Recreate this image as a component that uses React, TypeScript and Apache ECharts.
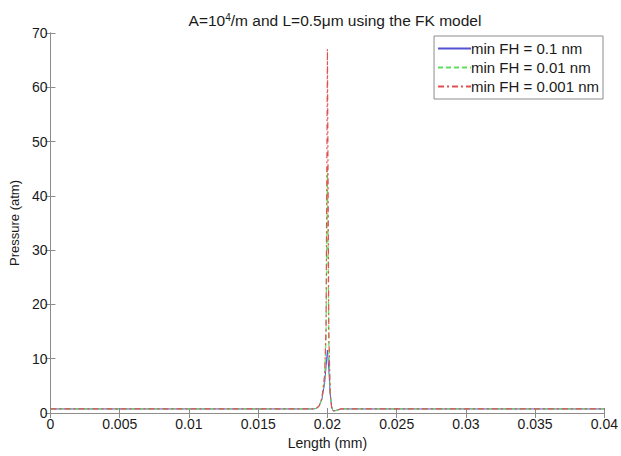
import React, { useEffect, useRef } from "react";
import * as echarts from "echarts";

const seriesNames = ["min FH = 0.1 nm", "min FH = 0.01 nm", "min FH = 0.001 nm"];

// [length (mm), pressure (atm)]
const blueData: [number, number][] = [
  [0, 0.75], [0.019, 0.75], [0.0192, 0.85], [0.0194, 1.3], [0.0196, 2.5], [0.0198, 5.5],
  [0.0199, 8.5], [0.02, 11.6], [0.0201, 8], [0.0202, 3.5], [0.0203, 1.2], [0.0204, 0.4],
  [0.0206, 0.45], [0.0209, 0.7], [0.021, 0.75], [0.04, 0.75],
];
const greenData: [number, number][] = [
  [0, 0.75], [0.019, 0.75], [0.0192, 0.85], [0.0194, 1.3], [0.0196, 2.6], [0.0198, 6.5],
  [0.0199, 14], [0.02, 45], [0.0201, 13], [0.0202, 3.5], [0.0203, 1.1], [0.0204, 0.4],
  [0.0206, 0.45], [0.0209, 0.7], [0.021, 0.75], [0.04, 0.75],
];
const redData: [number, number][] = [
  [0, 0.75], [0.019, 0.75], [0.0192, 0.85], [0.0194, 1.3], [0.0196, 2.7], [0.0198, 7],
  [0.0199, 16], [0.02, 67], [0.0201, 15], [0.0202, 3.6], [0.0203, 1.1], [0.0204, 0.4],
  [0.0206, 0.45], [0.0209, 0.7], [0.021, 0.75], [0.04, 0.75],
];

const xMin = 0, xMax = 0.04, xStep = 0.005;
const yMin = 0, yMax = 70, yStep = 10;

const FONT = "Liberation Sans, Arial, sans-serif";
const AXIS_COLOR = "#8c8c8c";
const TEXT_COLOR = "#1a1a1a";

export default function App() {
  const ref = useRef<HTMLDivElement>(null);
  useEffect(() => {
    if (!ref.current) return;
    const chart = echarts.init(ref.current, undefined, { renderer: "svg" });
    const axisLine = { show: true, lineStyle: { color: AXIS_COLOR, width: 1 } };
    const tick = { show: true, inside: true, length: 5, lineStyle: { color: AXIS_COLOR } };
    chart.setOption({
      animation: false,
      backgroundColor: "#ffffff",
      textStyle: { fontFamily: FONT },
      title: {
        text: "A=10{sup|4}/m and L=0.5μm using the FK model",
        left: 330,
        textAlign: "center",
        top: 7,
        textStyle: {
          fontFamily: FONT,
          fontSize: 15.5,
          fontWeight: "normal",
          color: TEXT_COLOR,
          rich: {
            sup: { fontSize: 10, verticalAlign: "top", padding: [0, 0, 7, 0], fontFamily: FONT, color: TEXT_COLOR },
          },
        },
      },
      legend: {
        orient: "vertical",
        right: 18,
        top: 36,
        itemWidth: 33,
        itemHeight: 8,
        itemGap: 4,
        padding: [5, 4, 5, 3],
        borderColor: "#8c8c8c",
        borderWidth: 1,
        backgroundColor: "#ffffff",
        itemStyle: { opacity: 0 },
        textStyle: { fontFamily: FONT, fontSize: 15, color: TEXT_COLOR, padding: [0, 0, 0, -5] },
        data: seriesNames,
      },
      grid: { left: 50, right: 14, top: 33, bottom: 43 },
      xAxis: [
        {
          type: "value",
          min: xMin,
          max: xMax,
          interval: xStep,
          name: "Length (mm)",
          nameLocation: "middle",
          nameGap: 22,
          nameTextStyle: { fontFamily: FONT, fontSize: 14, color: TEXT_COLOR },
          axisLine,
          axisTick: tick,
          splitLine: { show: false },
          axisLabel: {
            fontFamily: FONT,
            fontSize: 14,
            color: TEXT_COLOR,
            margin: 4,
            formatter: (v: number) => String(parseFloat(v.toFixed(4))),
          },
        },
        {
          type: "value",
          position: "top",
          min: xMin,
          max: xMax,
          interval: xStep,
          axisLine,
          axisTick: tick,
          splitLine: { show: false },
          axisLabel: { show: false },
        },
      ],
      yAxis: [
        {
          type: "value",
          min: yMin,
          max: yMax,
          interval: yStep,
          name: "Pressure (atm)",
          nameLocation: "middle",
          nameGap: 25,
          nameTextStyle: { fontFamily: FONT, fontSize: 13, color: TEXT_COLOR },
          axisLine,
          axisTick: tick,
          splitLine: { show: false },
          axisLabel: { fontFamily: FONT, fontSize: 14, color: TEXT_COLOR, margin: 3 },
        },
        {
          type: "value",
          position: "right",
          min: yMin,
          max: yMax,
          interval: yStep,
          axisLine,
          axisTick: tick,
          splitLine: { show: false },
          axisLabel: { show: false },
        },
      ],
      series: [
        {
          name: seriesNames[0],
          type: "line",
          data: blueData,
          showSymbol: false,
          symbol: "none",
          lineStyle: { color: "#5252d2", width: 1, type: "solid" },
          itemStyle: { color: "#5252d2" },
          z: 3,
        },
        {
          name: seriesNames[1],
          type: "line",
          data: greenData,
          showSymbol: false,
          symbol: "none",
          lineStyle: { color: "#5ce05c", width: 1.2, type: [5, 3] },
          itemStyle: { color: "#5ce05c" },
          z: 4,
        },
        {
          name: seriesNames[2],
          type: "line",
          data: redData,
          showSymbol: false,
          symbol: "none",
          lineStyle: { color: "#e05050", width: 1.2, type: [6, 3, 2, 3] },
          itemStyle: { color: "#e05050" },
          z: 5,
        },
      ],
    });
    return () => chart.dispose();
  }, []);
  return (
    <div
      ref={ref}
      style={{ position: "fixed", left: 0, top: 0, width: 621, height: 456 }}
    />
  );
}
